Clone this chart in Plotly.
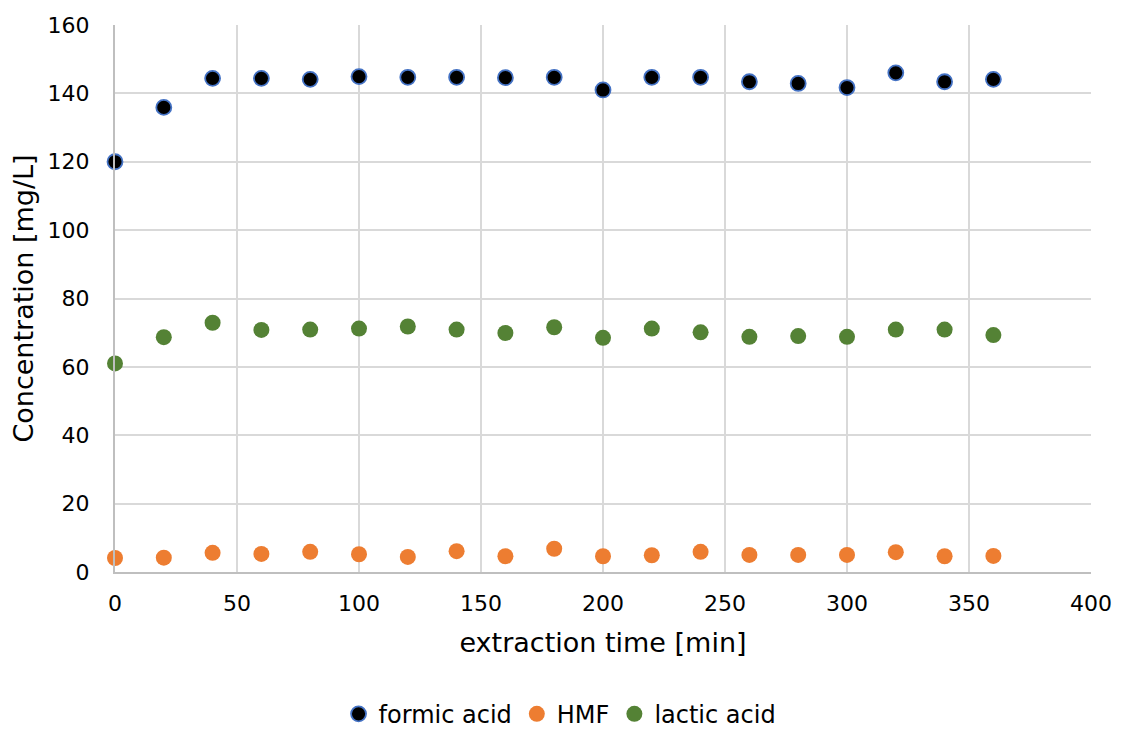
import plotly.graph_objects as go

time_min = [0, 20, 40, 60, 80, 100, 120, 140, 160, 180, 200, 220, 240, 260, 280, 300, 320, 340, 360]
formic_acid = [120.0, 135.9, 144.4, 144.4, 144.1, 144.9, 144.7, 144.7, 144.6, 144.7, 141.0, 144.7, 144.7, 143.4, 142.9, 141.7, 146.0, 143.4, 144.1]
hmf = [4.1, 4.2, 5.6, 5.3, 5.9, 5.2, 4.4, 6.1, 4.6, 6.8, 4.6, 4.9, 5.9, 5.0, 5.0, 5.0, 5.8, 4.6, 4.7]
lactic_acid = [61.0, 68.7, 72.9, 70.8, 70.9, 71.2, 71.8, 70.9, 69.9, 71.6, 68.5, 71.2, 70.1, 68.8, 69.0, 68.8, 70.9, 70.9, 69.3]

FONT = "DejaVu Sans"

fig = go.Figure()
fig.add_trace(go.Scatter(x=time_min, y=formic_acid, mode="markers", name="formic acid",
                         cliponaxis=False,
                         marker=dict(size=15, color="#000000", line=dict(color="#4472C4", width=1.8))))
fig.add_trace(go.Scatter(x=time_min, y=hmf, mode="markers", name="HMF",
                         cliponaxis=False,
                         marker=dict(size=16, color="#ED7D31", line=dict(width=0))))
fig.add_trace(go.Scatter(x=time_min, y=lactic_acid, mode="markers", name="lactic acid",
                         cliponaxis=False,
                         marker=dict(size=16, color="#548235", line=dict(width=0))))

# page body has an 8px margin, so the figure is sized/offset to compensate
fig.update_layout(
    width=1113, height=721,
    margin=dict(l=107, r=30, t=17, b=157, autoexpand=False),
    paper_bgcolor="white", plot_bgcolor="white",
    font=dict(family=FONT, size=22, color="#000000"),
    showlegend=True,
    legend=dict(orientation="h", x=0.456, xanchor="center", y=-0.26, yanchor="middle",
                font=dict(family=FONT, size=24), itemwidth=30, tracegroupgap=0,
                bgcolor="rgba(0,0,0,0)"),
    xaxis=dict(range=[0, 400], dtick=50, tick0=0, automargin=False,
               showgrid=True, gridcolor="#D9D9D9", gridwidth=1.6,
               showline=True, linecolor="#BFBFBF", linewidth=2,
               zeroline=False, ticks="", ticklen=0, ticklabelstandoff=11,
               tickfont=dict(family=FONT, size=22),
               title=dict(text="extraction time [min]", font=dict(family=FONT, size=27), standoff=18)),
    yaxis=dict(range=[0, 160], dtick=20, tick0=0, automargin=False,
               showgrid=True, gridcolor="#D9D9D9", gridwidth=1.6,
               showline=True, linecolor="#BFBFBF", linewidth=2,
               zeroline=False, ticks="", ticklabelstandoff=19,
               tickfont=dict(family=FONT, size=22),
               title=dict(text="Concentration [mg/L]", font=dict(family=FONT, size=27), standoff=6)),
)

fig.write_html("out.html")
